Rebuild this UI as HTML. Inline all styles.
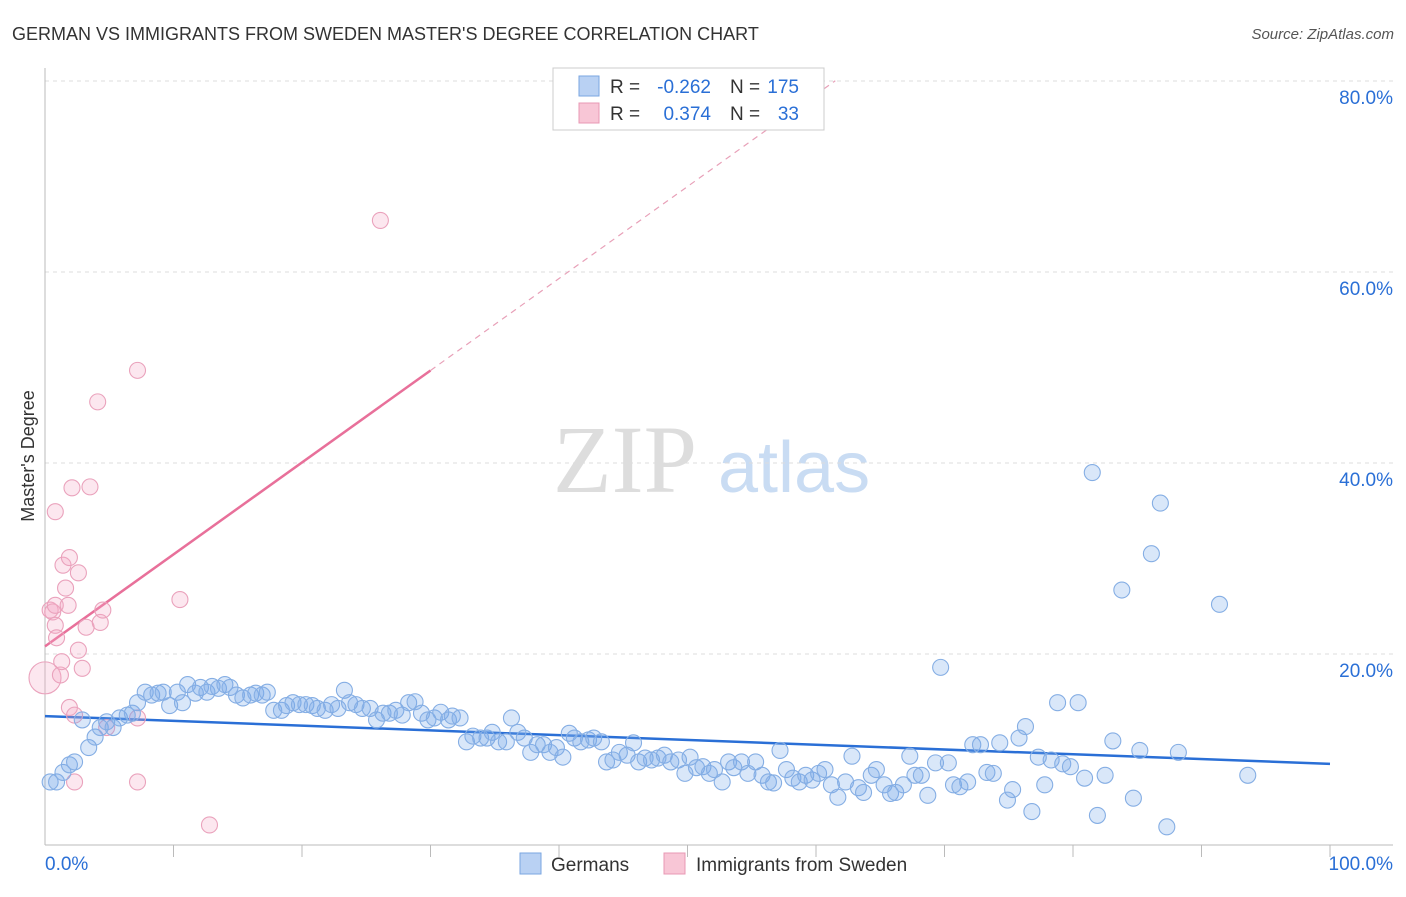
<!DOCTYPE html>
<html><head><meta charset="utf-8"><style>
body{margin:0;background:#fff;font-family:"Liberation Sans",sans-serif}
svg text{font-family:"Liberation Sans",sans-serif}
</style></head><body>
<svg id="c" width="1406" height="892" xmlns="http://www.w3.org/2000/svg">
<text x="12" y="40" font-size="18" fill="#333">GERMAN VS IMMIGRANTS FROM SWEDEN MASTER'S DEGREE CORRELATION CHART</text>
<text x="1394" y="39" font-size="15" fill="#555" font-style="italic" text-anchor="end">Source: ZipAtlas.com</text>
<text x="34" y="456" font-size="18" fill="#333" text-anchor="middle" transform="rotate(-90 34 456)">Master's Degree</text>
<g>
<text x="553" y="492" font-size="96" fill="#ddd" font-family="Liberation Serif" style="font-family:'Liberation Serif',serif">ZIP</text>
<text x="718" y="492" font-size="72" fill="#c9dcf3">atlas</text>
</g>
<g id="grid"></g><g id="axes"></g><g id="trend"></g><g id="pts"></g>
<g>
<rect x="553" y="68" width="271" height="62" fill="#fff" stroke="#ccc"/>
<rect x="579" y="76" width="20" height="20" fill="#b9d1f3" stroke="#7aa6e0"/>
<rect x="579" y="103" width="20" height="20" fill="#f8c6d6" stroke="#e898b4"/>
<text x="610" y="93" font-size="19" fill="#333">R =</text>
<text x="711" y="93" font-size="19" fill="#2a6fd6" text-anchor="end">-0.262</text>
<text x="730" y="93" font-size="19" fill="#333">N =</text>
<text x="799" y="93" font-size="19" fill="#2a6fd6" text-anchor="end">175</text>
<text x="610" y="120" font-size="19" fill="#333">R =</text>
<text x="711" y="120" font-size="19" fill="#2a6fd6" text-anchor="end">0.374</text>
<text x="730" y="120" font-size="19" fill="#333">N =</text>
<text x="799" y="120" font-size="19" fill="#2a6fd6" text-anchor="end">33</text>
</g>
<g>
<rect x="520" y="853" width="21" height="21" fill="#b9d1f3" stroke="#7aa6e0"/>
<text x="551" y="871" font-size="19" fill="#333">Germans</text>
<rect x="664" y="853" width="21" height="21" fill="#f8c6d6" stroke="#e898b4"/>
<text x="696" y="871" font-size="19" fill="#333">Immigrants from Sweden</text>
</g>
</svg>
<script>
const yTicks=[20,40,60,80];
const yTickLabels=["20.0%","40.0%","60.0%","80.0%"];
const xTickLabels=["0.0%","100.0%"];
const germansX=[0.4,0.9,1.4,1.9,2.3,2.9,3.4,3.9,4.3,4.8,5.3,5.8,6.4,6.8,7.2,7.8,8.3,8.8,9.2,9.7,10.3,10.7,11.1,11.7,12.1,12.6,13.0,13.5,14.0,14.4,14.9,15.4,16.0,16.4,16.9,17.3,17.8,18.4,18.8,19.3,19.8,20.3,20.8,21.2,21.8,22.3,22.8,23.3,23.7,24.2,24.7,25.3,25.8,26.3,26.8,27.3,27.8,28.3,28.8,29.3,29.8,30.3,30.8,31.4,31.7,32.3,32.8,33.3,33.9,34.4,34.8,35.3,35.9,36.3,36.8,37.3,37.8,38.3,38.8,39.3,39.8,40.3,40.8,41.2,41.7,42.3,42.7,43.3,43.7,44.2,44.7,45.3,45.8,46.2,46.7,47.2,47.7,48.2,48.7,49.3,49.8,50.2,50.7,51.2,51.7,52.1,52.7,53.2,53.6,54.2,54.7,55.3,55.8,56.3,56.7,57.2,57.7,58.2,58.7,59.2,59.7,60.2,60.7,61.2,61.7,62.3,62.8,63.3,63.7,64.3,64.7,65.3,65.8,66.2,66.8,67.3,67.7,68.2,68.7,69.3,69.7,70.3,70.7,71.2,71.8,72.2,72.8,73.3,73.8,74.3,74.9,75.3,75.8,76.3,76.8,77.3,77.8,78.3,78.8,79.2,79.8,80.4,80.9,81.5,81.9,82.5,83.1,83.8,84.7,85.2,86.1,86.8,87.3,88.2,91.4,93.6];
const germansY=[6.6,6.6,7.6,8.4,8.7,13.1,10.2,11.3,12.3,12.9,12.3,13.3,13.6,13.8,14.9,16.0,15.7,15.9,16.0,14.6,16.0,14.9,16.8,15.9,16.5,16.0,16.6,16.4,16.8,16.5,15.7,15.4,15.7,15.9,15.7,16.0,14.1,14.1,14.6,14.9,14.7,14.7,14.6,14.3,14.1,14.7,14.3,16.2,14.9,14.7,14.3,14.3,13.1,13.8,13.8,14.1,13.6,14.9,15.0,13.8,13.1,13.3,13.9,13.1,13.5,13.3,10.8,11.4,11.2,11.2,11.8,10.8,10.8,13.3,11.8,11.2,9.7,10.5,10.5,9.7,10.2,9.2,11.7,11.2,10.8,11.0,11.2,10.8,8.7,8.9,9.7,9.4,10.7,8.7,9.1,8.9,9.1,9.4,8.7,8.9,7.5,9.2,8.1,8.2,7.5,7.9,6.6,8.7,8.1,8.7,7.5,8.7,7.3,6.6,6.5,9.9,7.9,7.0,6.6,7.3,6.8,7.5,7.9,6.3,5.0,6.6,9.3,6.0,5.5,7.3,7.9,6.3,5.4,5.5,6.3,9.3,7.3,7.3,5.2,8.6,18.6,8.6,6.3,6.1,6.6,10.5,10.5,7.6,7.5,10.7,4.7,5.8,11.2,12.4,3.5,9.2,6.3,8.9,14.9,8.5,8.2,14.9,7.0,39.0,3.1,7.3,10.9,26.7,4.9,9.9,30.5,35.8,1.9,9.7,25.2,7.3];
const swedenX=[0.0,0.4,0.6,0.8,0.8,0.8,0.9,1.2,1.3,1.4,1.6,1.8,1.9,1.9,2.1,2.3,2.3,2.6,2.6,2.9,3.2,3.5,4.1,4.3,4.5,4.8,7.2,7.2,7.2,10.5,12.8,26.1];
const swedenY=[17.5,24.6,24.4,34.9,25.1,23.0,21.7,17.8,19.2,29.3,26.9,25.1,30.1,14.4,37.4,13.6,6.6,28.5,20.4,18.5,22.8,37.5,46.4,23.3,24.6,12.3,49.7,13.3,6.6,25.7,2.1,65.4];
const germansTrend=[13.5,8.5];
const swedenTrend=[20.8,0.963];
const NS="http://www.w3.org/2000/svg";
const X=v=>45+v*12.85, Y=v=>845-v*9.55;
function mk(tag,attrs,parent){const e=document.createElementNS(NS,tag);for(const k in attrs)e.setAttribute(k,attrs[k]);document.getElementById(parent).appendChild(e);return e;}
yTicks.forEach((t,i)=>{
 const g=mk('line',{x1:45,x2:1393,y1:Y(t),y2:Y(t),stroke:'#ddd','stroke-dasharray':'4 4'},'grid');
 
 
 const l=mk('text',{x:1393,y:Y(t)+23,'font-size':19,fill:'#2a6fd6','text-anchor':'end'},'grid');
 l.textContent=yTickLabels[i];
 
 
});
let a=mk('line',{x1:45,x2:45,y1:68,y2:845,stroke:'#bbb'},'axes');


a=mk('line',{x1:45,x2:1393,y1:845,y2:845,stroke:'#bbb'},'axes');


for(let i=1;i<=10;i++){const t=mk('line',{x1:X(i*10),x2:X(i*10),y1:845,y2:857,stroke:'#bbb'},'axes');
 
 }
[[0,'start',45],[100,'end',1393]].forEach((d,i)=>{const t=mk('text',{x:d[2],y:870,'font-size':19,fill:'#2a6fd6','text-anchor':d[1]},'axes');t.textContent=xTickLabels[i];
 
 });
swedenX.forEach((x,i)=>{const c=mk('circle',{cx:X(x),cy:Y(swedenY[i]),r:i==0?16:8,fill:'rgba(244,170,196,0.28)',stroke:'#eaa2bc','stroke-width':1.1},'pts');
 
 });
germansX.forEach((x,i)=>{const c=mk('circle',{cx:X(x),cy:Y(germansY[i]),r:8,fill:'rgba(120,168,232,0.28)',stroke:'#85aee4','stroke-width':1.1},'pts');
 
 });
let t=mk('line',{x1:X(0),y1:Y(germansTrend[0]),x2:X(100),y2:Y(germansTrend[1]),stroke:'#2a6fd6','stroke-width':2.5},'trend');


const sy=x=>swedenTrend[0]+swedenTrend[1]*x;
t=mk('line',{x1:X(0),y1:Y(sy(0)),x2:X(30),y2:Y(sy(30)),stroke:'#e8709a','stroke-width':2.5},'trend');


t=mk('line',{x1:X(30),y1:Y(sy(30)),x2:X(61.5),y2:Y(sy(61.5)),stroke:'#e8a0b8','stroke-width':1.2,'stroke-dasharray':'6 5'},'trend');


</script>
</body></html>
